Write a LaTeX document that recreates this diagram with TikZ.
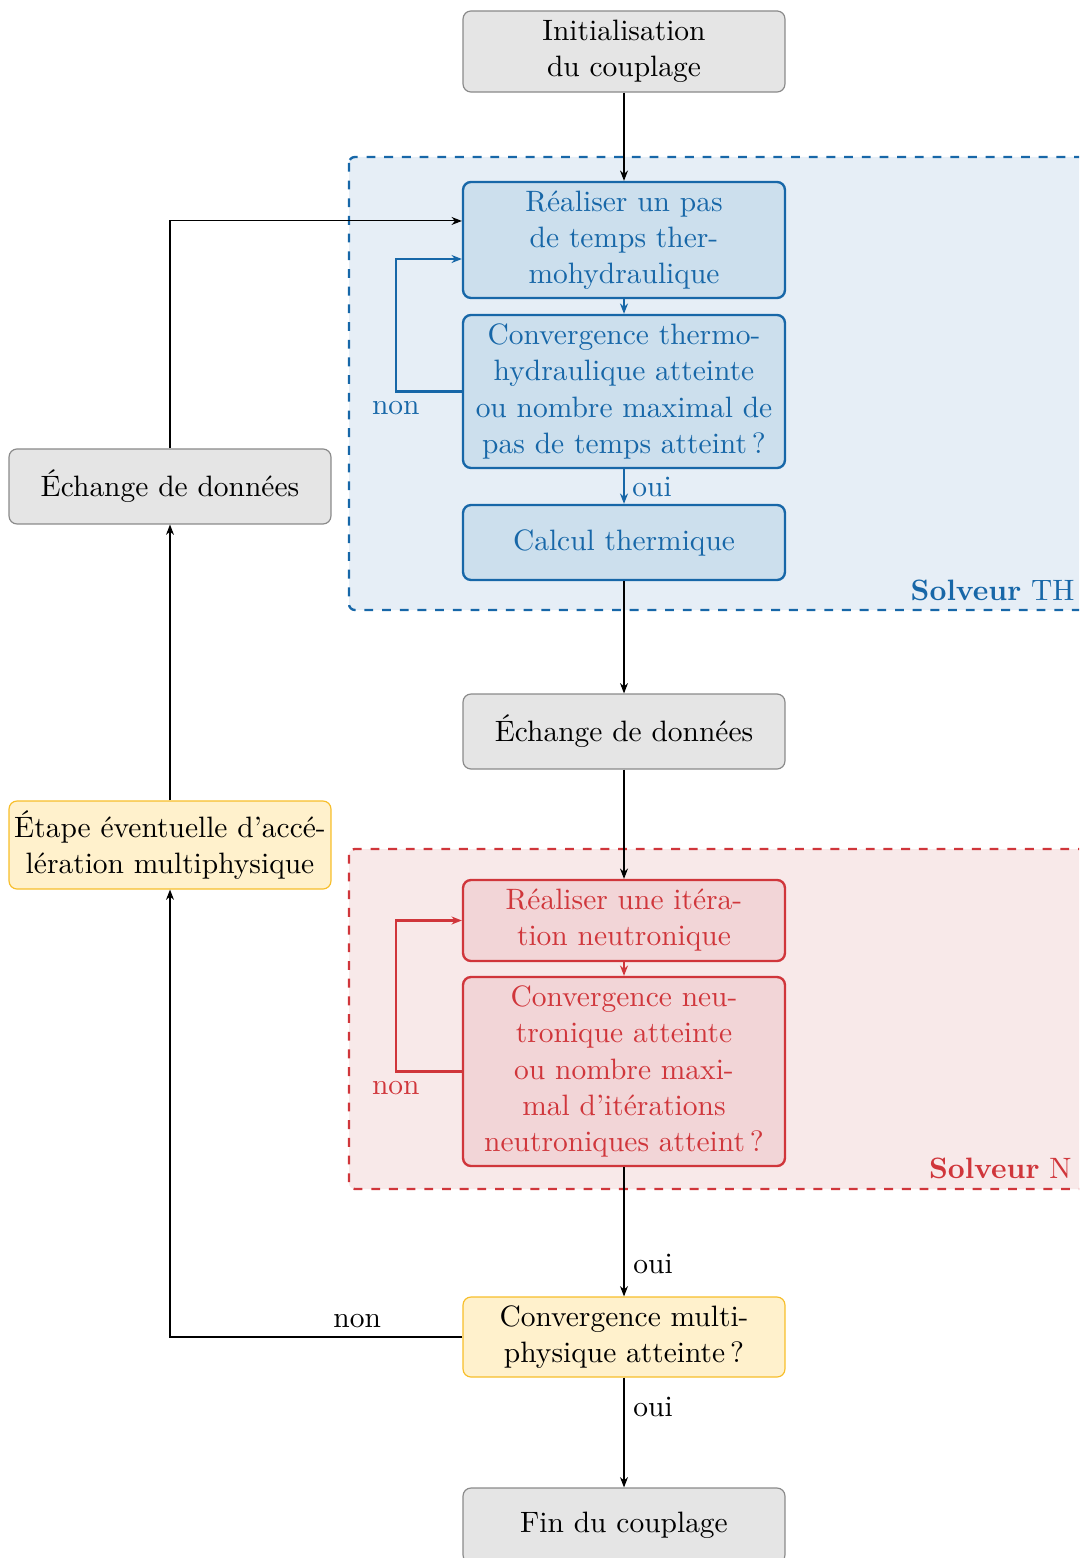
\documentclass[tikz,border=0pt]{standalone}
\usepackage{fontspec}
\usetikzlibrary{arrows.meta}
\definecolor{thblue}{HTML}{1767A8}
\definecolor{thboxfill}{HTML}{CCDFED}
\definecolor{thcont}{HTML}{E6EEF6}
\definecolor{nred}{HTML}{D0363B}
\definecolor{nboxfill}{HTML}{F2D5D7}
\definecolor{ncont}{HTML}{F8E9E9}
\definecolor{yfill}{HTML}{FFF1CC}
\definecolor{ybord}{HTML}{F7BE2A}
\definecolor{fillgrey}{HTML}{E5E5E5}
\definecolor{boxgrey}{HTML}{8A8A8A}
\begin{document}
\begin{tikzpicture}[x=0.3392pt,y=-0.3392pt,
  every node/.style={font=\fontsize{10}{12.25}\selectfont},
  box/.style={rounded corners=2.7pt, minimum width=109.2pt, align=center, inner sep=0pt},
  greybox/.style={box, draw=boxgrey, fill=fillgrey, line width=0.4pt},
  bluebox/.style={box, draw=thblue, fill=thboxfill, text=thblue, line width=0.8pt},
  redbox/.style={box, draw=nred, fill=nboxfill, text=nred, line width=0.8pt},
  yellowbox/.style={box, draw=ybord, fill=yfill, line width=0.4pt},
  conn/.style={-{Stealth[length=3.5pt,width=2.7pt]}, line width=0.35pt},
  bconn/.style={conn, draw=thblue, line width=0.7pt},
  rconn/.style={conn, draw=nred, line width=0.7pt},
  container/.style={dashed, line width=0.8pt, rounded corners=2pt}
]
\useasboundingbox (0,0) rectangle (1079,1558);
\clip (0,0) rectangle (1079,1558);

% containers
\draw[container, draw=thblue, fill=thcont] (349,157) rectangle (1110,610);
\draw[container, draw=nred, fill=ncont] (349,849) rectangle (1110,1189);
\node[anchor=east, text=thblue, inner sep=0pt] (thlabel) at (1075,590) {\textbf{Solveur} TH};
\node[anchor=east, text=nred, inner sep=0pt] (nlabel) at (1072,1168) {\textbf{Solveur} N};

% nodes
\node[greybox, minimum height=27.5pt] (init) at (624,51.5) {Initialisation\\du couplage};
\node[bluebox, minimum height=39.35pt] (pas) at (624,240) {Réaliser un pas\\de temps ther-\\mohydraulique};
\node[bluebox, minimum height=51.9pt] (convth) at (624,391.5) {Convergence thermo-\\hydraulique atteinte\\ou nombre maximal de\\pas de temps atteint\,?};
\node[bluebox, minimum height=25.44pt] (calc) at (624,542.5) {Calcul thermique};
\node[greybox, minimum height=25.44pt] (ech2) at (624,731.5) {Échange de données};
\node[redbox, minimum height=27.48pt] (iter) at (624,920.5) {Réaliser une itéra-\\tion neutronique};
\node[redbox, minimum height=64.11pt] (convn) at (624,1071.5) {Convergence neu-\\tronique atteinte\\ou nombre maxi-\\mal d’itérations\\neutroniques atteint\,?};
\node[yellowbox, minimum height=27.14pt] (multi) at (624,1337) {Convergence multi-\\physique atteinte\,?};
\node[greybox, minimum height=25.44pt] (fin) at (624,1525.5) {Fin du couplage};
\node[greybox, minimum height=25.44pt] (ech1) at (170,486.5) {Échange de données};
\node[yellowbox, minimum height=29.85pt] (accel) at (170,845) {Étape éventuelle d’accé-\\lération multiphysique};

% connectors
\draw[conn] (init) -- (pas);
\draw[bconn] (pas) -- (convth);
\draw[bconn] (convth) -- (calc) node[midway, right, text=thblue, inner sep=2.5pt] {oui};
\draw[bconn] (convth.west) -- ++(-66,0) node[below, text=thblue, inner sep=3pt] {non} |- ([yshift=-6.45pt]pas.west);
\draw[conn] (ech1.north) |- ([yshift=6.45pt]pas.west);
\draw[conn] (calc) -- (ech2);
\draw[conn] (ech2) -- (iter);
\draw[rconn] (iter) -- (convn);
\draw[rconn] (convn.west) -- ++(-66,0) node[below, text=nred, inner sep=3pt] {non} |- (iter.west);
\draw[conn] (convn) -- (multi) node[pos=0.75, right, inner sep=3pt] {oui};
\draw[conn] (multi.west) -| (accel.south) node[pos=0.18, above, inner sep=3pt] {non};
\draw[conn] (accel) -- (ech1);
\draw[conn] (multi) -- (fin) node[pos=0.27, right, inner sep=3pt] {oui};
\end{tikzpicture}
\end{document}
